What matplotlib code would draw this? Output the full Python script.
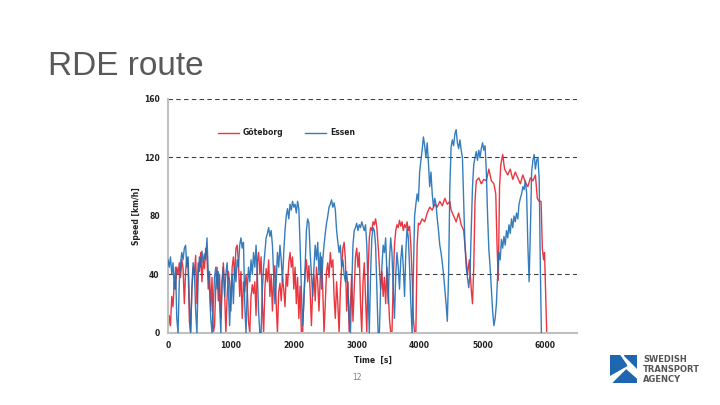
import matplotlib
matplotlib.use('Agg')
import matplotlib.pyplot as plt
from matplotlib.patches import Polygon

# Göteborg route speed trace (time [s], speed [km/h])
gbg_t = [0, 20, 40, 60, 80, 100, 120, 140, 160, 180, 200, 220, 240, 260, 280, 300, 320, 340, 360, 380,
         400, 420, 440, 460, 480, 500, 520, 540, 560, 580, 600, 620, 640, 660, 680, 700, 720, 740, 760, 780,
         800, 820, 840, 860, 880, 900, 920, 940, 960, 980, 1000, 1020, 1040, 1060, 1080, 1100, 1120, 1140, 1160, 1180,
         1200, 1220, 1240, 1260, 1280, 1300, 1320, 1340, 1360, 1380, 1400, 1420, 1440, 1460, 1480, 1500, 1520, 1540, 1560, 1580,
         1600, 1620, 1640, 1660, 1680, 1700, 1720, 1740, 1760, 1780, 1800, 1820, 1840, 1860, 1880, 1900, 1920, 1940, 1960, 1980,
         2000, 2020, 2040, 2060, 2080, 2100, 2120, 2140, 2160, 2180, 2200, 2220, 2240, 2260, 2280, 2300, 2320, 2340, 2360, 2380,
         2400, 2420, 2440, 2460, 2480, 2500, 2520, 2540, 2560, 2580, 2600, 2620, 2640, 2660, 2680, 2700, 2720, 2740, 2760, 2780,
         2800, 2820, 2840, 2860, 2880, 2900, 2920, 2940, 2960, 2980, 3000, 3020, 3040, 3060, 3080, 3100, 3120, 3140, 3160, 3180,
         3200, 3220, 3240, 3260, 3280, 3300, 3320, 3340, 3360, 3380, 3400, 3420, 3440, 3460, 3480, 3500, 3520, 3540, 3560, 3580,
         3600, 3620, 3640, 3660, 3680, 3700, 3720, 3740, 3760, 3780, 3800, 3820, 3840, 3860, 3880, 3900, 3920, 3940, 3960, 3980,
         4000, 4040, 4080, 4120, 4160, 4200, 4240, 4280, 4320, 4360, 4400, 4440, 4480, 4500, 4540, 4580, 4620, 4660, 4700, 4730,
         4760, 4790, 4820, 4840, 4860, 4880, 4900, 4940, 4980, 5020, 5060, 5100, 5140, 5180, 5210, 5230, 5250, 5270, 5290, 5320,
         5350, 5400, 5440, 5480, 5520, 5560, 5600, 5640, 5680, 5720, 5760, 5800, 5840, 5870, 5900, 5930, 5950, 5970, 5985, 6020]
gbg_v = [0, 12, 5, 25, 18, 35, 30, 45, 40, 48, 38, 50, 44, 20, 42, 52, 46, 8, 0, 30,
         45, 40, 53, 20, 48, 42, 55, 35, 50, 44, 58, 52, 30, 42, 15, 38, 0, 5, 32, 45,
         22, 40, 10, 35, 48, 28, 0, 25, 42, 35, 15, 45, 52, 38, 58, 60, 48, 25, 42, 10,
         35, 28, 40, 30, 8, 0, 25, 33, 27, 35, 12, 48, 55, 40, 52, 20, 0, 30, 44, 35,
         50, 25, 40, 15, 38, 46, 20, 0, 28, 34, 22, 38, 30, 18, 40, 32, 48, 55, 45, 52,
         30, 45, 20, 38, 10, 32, 0, 0, 25, 42, 50, 35, 46, 28, 5, 30, 40, 22, 45, 35,
         15, 38, 52, 30, 0, 20, 42, 48, 38, 55, 45, 50, 25, 10, 35, 20, 0, 30, 45, 58,
         62, 50, 15, 35, 0, 20, 40, 8, 30, 52, 58, 45, 55, 20, 0, 35, 48, 25, 0, 40,
         65, 72, 70, 76, 74, 78, 72, 60, 45, 30, 42, 25, 38, 20, 45, 30, 10, 0, 0, 35,
         60, 70, 74, 72, 77, 73, 76, 70, 74, 72, 76, 70, 73, 60, 40, 10, 0, 0, 60, 75,
         74, 78, 76, 82, 86, 84, 88, 86, 90, 87, 92, 88, 90, 84, 80, 76, 82, 74, 70, 55,
         40, 50, 30, 20, 45, 90, 104, 106, 102, 105, 104, 112, 104, 102, 95, 60, 36, 100, 115, 122,
         112, 108, 112, 105, 110, 106, 102, 108, 103, 100, 106, 104, 108, 92, 90, 90, 58, 50, 55, 0]

# Essen route speed trace (time [s], speed [km/h])
ess_t = [0, 20, 40, 60, 80, 100, 120, 140, 160, 180, 200, 220, 240, 260, 280, 300, 320, 340, 360, 380,
         400, 420, 440, 460, 480, 500, 520, 540, 560, 580, 600, 620, 640, 660, 680, 700, 720, 740, 760, 780,
         800, 820, 840, 860, 880, 900, 920, 940, 960, 980, 1000, 1020, 1040, 1060, 1080, 1100, 1120, 1140, 1160, 1180,
         1200, 1220, 1240, 1260, 1280, 1300, 1320, 1340, 1360, 1380, 1400, 1420, 1440, 1460, 1480, 1500, 1520, 1540, 1560, 1580,
         1600, 1620, 1640, 1660, 1680, 1700, 1720, 1740, 1760, 1780, 1800, 1820, 1840, 1860, 1880, 1900, 1920, 1940, 1960, 1980,
         2000, 2020, 2040, 2060, 2080, 2100, 2120, 2140, 2160, 2180, 2200, 2220, 2240, 2260, 2280, 2300, 2320, 2340, 2360, 2380,
         2400, 2420, 2440, 2460, 2480, 2500, 2520, 2540, 2560, 2580, 2600, 2620, 2640, 2660, 2680, 2700, 2720, 2740, 2760, 2780,
         2800, 2820, 2840, 2860, 2880, 2900, 2920, 2940, 2960, 2980, 3000, 3020, 3040, 3060, 3080, 3100, 3120, 3140, 3160, 3180,
         3200, 3220, 3240, 3260, 3280, 3300, 3320, 3340, 3360, 3380, 3400, 3420, 3440, 3460, 3480, 3500, 3520, 3540, 3560, 3580,
         3600, 3620, 3640, 3660, 3680, 3700, 3720, 3740, 3760, 3780, 3800, 3820, 3840, 3860, 3880, 3900, 3920, 3940, 3960, 3980,
         4000, 4020, 4040, 4060, 4080, 4100, 4120, 4140, 4160, 4180, 4200, 4220, 4240, 4260, 4280, 4300, 4320, 4340, 4360, 4380,
         4400, 4420, 4440, 4460, 4480, 4500, 4520, 4540, 4560, 4580, 4600, 4620, 4640, 4660, 4680, 4700, 4720, 4740, 4760, 4780,
         4800, 4820, 4840, 4860, 4880, 4900, 4920, 4940, 4960, 4980, 5000, 5020, 5040, 5060, 5080, 5100, 5120, 5140, 5160, 5180,
         5200, 5220, 5240, 5260, 5280, 5300, 5320, 5340, 5360, 5380, 5400, 5420, 5440, 5460, 5480, 5500, 5520, 5540, 5560, 5580,
         5600, 5620, 5640, 5660, 5680, 5700, 5720, 5740, 5760, 5780, 5800, 5820, 5840, 5860, 5880, 5900, 5920, 5935]
ess_v = [50, 45, 52, 40, 48, 30, 45, 10, 0, 35, 48, 55, 50, 58, 60, 45, 52, 20, 0, 30,
         48, 42, 15, 0, 40, 52, 45, 56, 48, 54, 50, 65, 42, 30, 10, 0, 20, 38, 45, 30,
         42, 20, 0, 35, 45, 25, 40, 48, 30, 5, 30, 40, 20, 45, 35, 50, 45, 60, 65, 58,
         62, 20, 0, 30, 45, 35, 50, 40, 55, 45, 60, 40, 15, 0, 0, 30, 45, 55, 65, 68,
         72, 66, 70, 60, 40, 20, 35, 55, 45, 60, 50, 35, 55, 70, 80, 85, 78, 88, 84, 90,
         86, 88, 82, 90, 85, 60, 30, 5, 20, 45, 70, 78, 75, 55, 40, 25, 45, 60, 50, 62,
         40, 55, 30, 50, 60, 68, 75, 80, 86, 88, 91, 86, 89, 84, 70, 62, 55, 60, 45, 50,
         40, 35, 42, 30, 10, 0, 30, 60, 70, 72, 75, 70, 74, 72, 76, 73, 70, 74, 60, 30,
         0, 40, 65, 72, 70, 60, 30, 0, 0, 30, 45, 60, 55, 65, 40, 20, 50, 65, 55, 30,
         10, 40, 55, 45, 30, 50, 60, 45, 25, 55, 72, 65, 45, 20, 0, 40, 80, 88, 95, 90,
         110, 118, 125, 134, 128, 120, 130, 116, 100, 110, 95, 86, 92, 88, 78, 70, 60, 55, 48, 40,
         30, 20, 8, 40, 100, 127, 132, 128, 136, 139, 130, 126, 132, 125, 120, 90, 60, 45, 38, 31,
         40, 70, 100, 115, 120, 124, 118, 125, 120, 126, 130, 125, 128, 110, 80, 57, 45, 30, 15, 5,
         10, 20, 40, 55, 50, 64, 58, 66, 60, 70, 65, 74, 68, 78, 72, 80, 76, 82, 78, 88,
         92, 95, 100, 98, 104, 96, 60, 35, 70, 110, 118, 122, 112, 118, 120, 105, 40, 0]

fig = plt.figure(figsize=(7.2, 4.05), dpi=100)
fig.patch.set_facecolor('white')

fig.text(0.066, 0.835, 'RDE route', fontsize=24, color='#595959',
         family='Liberation Sans', va='center', ha='left')

ax = fig.add_axes([0.2333, 0.1778, 0.568, 0.578])
for y in (40, 120, 160):
    ax.axhline(y, color='#404040', lw=0.8, ls=(0, (4, 3)), zorder=1)
ax.plot(gbg_t, gbg_v, color='#e8202a', lw=1.0, alpha=0.9, label='Göteborg', zorder=2)
ax.plot(ess_t, ess_v, color='#1f6fb5', lw=1.0, alpha=0.9, label='Essen', zorder=3)

ax.set_xlim(0, 6500)
ax.set_ylim(0, 160)
ax.set_xticks(range(0, 6001, 1000))
ax.set_yticks([0, 40, 80, 120, 160])
ax.tick_params(length=0, labelsize=5.5, labelcolor='#222222', pad=6)
for lbl in ax.get_xticklabels() + ax.get_yticklabels():
    lbl.set_fontweight('bold')
for s in ('top', 'right'):
    ax.spines[s].set_visible(False)
for s in ('left', 'bottom'):
    ax.spines[s].set_color('#c0c0c0')
    ax.spines[s].set_linewidth(1.5)
ax.set_xlabel('Time  [s]', fontsize=5.5, fontweight='bold', color='#222222', labelpad=4)
ax.set_ylabel('Speed [km/h]', fontsize=5.5, fontweight='bold', color='#222222', labelpad=2)

leg = ax.legend(loc='center', bbox_to_anchor=(0.29, 0.855), ncol=2, frameon=False,
                fontsize=5.5, handlelength=2.8, columnspacing=2.8, handletextpad=0.5)
for t in leg.get_texts():
    t.set_fontweight('bold')
    t.set_color('#222222')

fig.text(357 / 720, 1 - 378 / 405, '12', fontsize=5.5, color='#7f7f7f', ha='center', va='center')

# logo
lax = fig.add_axes([610 / 720, 1 - 383 / 405, 27 / 720, 28 / 405])
lax.set_xlim(0, 1)
lax.set_ylim(0, 1)
lax.axis('off')
logo_blue = '#1f66b0'
lax.add_patch(Polygon([[0, 1], [0.35, 1], [0.62, 0.62], [0, 0.28]], closed=True, color=logo_blue))
lax.add_patch(Polygon([[0.52, 1], [1, 1], [1, 0.55]], closed=True, color=logo_blue))
lax.add_patch(Polygon([[0.12, 0], [1, 0], [1, 0.12], [0.6, 0.46]], closed=True, color=logo_blue))
for i, word in enumerate(['SWEDISH', 'TRANSPORT', 'AGENCY']):
    fig.text(643 / 720, 1 - (359 + 10 * i) / 405, word, fontsize=6, fontweight='bold',
             color='#555555', ha='left', va='center')

plt.savefig('out.png', dpi=100)
plt.close(fig)
